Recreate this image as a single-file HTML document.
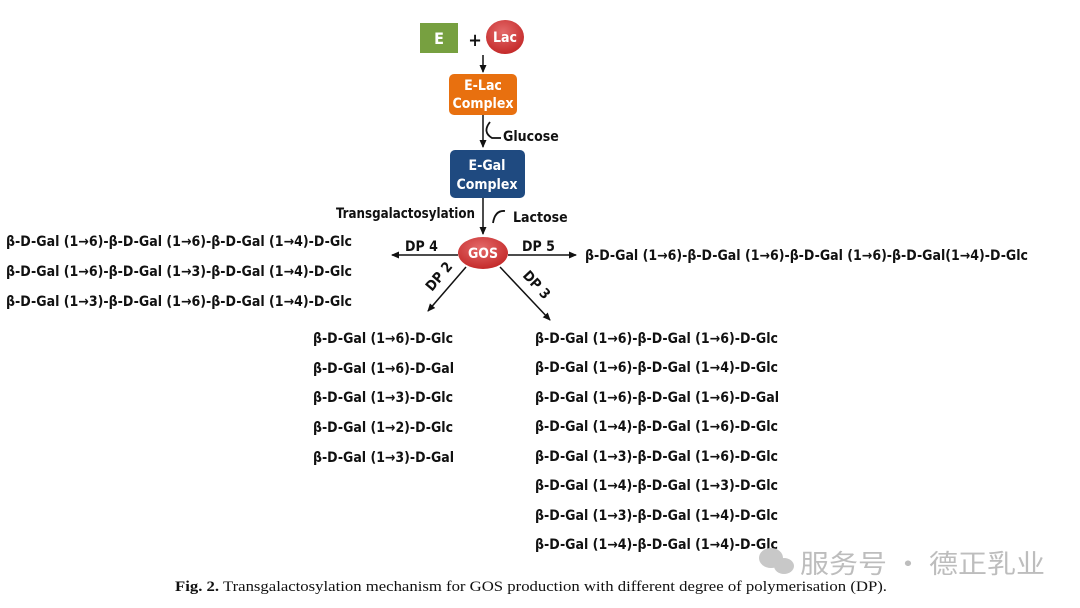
<!DOCTYPE html>
<html><head><meta charset="utf-8"><style>
html,body{margin:0;padding:0;background:#fff;}
svg{display:block;}
.t{font-family:"DejaVu Sans Condensed","Liberation Sans",sans-serif;font-weight:bold;font-size:14px;fill:#111;}
.w{font-family:"DejaVu Sans Condensed","Liberation Sans",sans-serif;font-weight:bold;font-size:14px;fill:#fff;}
</style></head><body>
<svg width="1080" height="608" viewBox="0 0 1080 608" xmlns="http://www.w3.org/2000/svg">
<defs>
<marker id="a" markerWidth="8" markerHeight="8" refX="7" refY="4" orient="auto" markerUnits="userSpaceOnUse"><path d="M0,0.5 L8,4 L0,7.5 Z" fill="#111"/></marker>
<radialGradient id="r" cx="45%" cy="35%" r="65%"><stop offset="0" stop-color="#e46a6a"/><stop offset="1" stop-color="#c42a2a"/></radialGradient>
</defs>
<rect x="420" y="23" width="38" height="30" fill="#77a040"/>
<text x="439" y="44" class="w" style="font-size:16px" text-anchor="middle">E</text>
<text x="475" y="46" class="t" style="font-size:18px" text-anchor="middle">+</text>
<ellipse cx="505" cy="37" rx="19" ry="17" fill="url(#r)"/>
<text x="505" y="42" class="w" text-anchor="middle">Lac</text>
<line x1="483" y1="55" x2="483" y2="72" stroke="#111" stroke-width="1.5" marker-end="url(#a)"/>
<rect x="449" y="74" width="68" height="41" rx="5" fill="#e8700f"/>
<text x="483" y="90" class="w" text-anchor="middle">E-Lac</text>
<text x="483" y="108" class="w" text-anchor="middle">Complex</text>
<line x1="483" y1="115" x2="483" y2="147" stroke="#111" stroke-width="1.5" marker-end="url(#a)"/>
<path d="M490,122 Q482,132 492,138 L501,138" stroke="#111" stroke-width="1.8" fill="none"/>
<text x="503" y="141" class="t">Glucose</text>
<rect x="450" y="150" width="75" height="48" rx="5" fill="#1f4a80"/>
<text x="487" y="170" class="w" text-anchor="middle">E-Gal</text>
<text x="487" y="189" class="w" text-anchor="middle">Complex</text>
<line x1="483" y1="198" x2="483" y2="234" stroke="#111" stroke-width="1.5" marker-end="url(#a)"/>
<text x="336" y="218" class="t" textLength="139" lengthAdjust="spacingAndGlyphs">Transgalactosylation</text>
<path d="M493,223 Q495,210 505,211" stroke="#111" stroke-width="1.8" fill="none"/>
<text x="513" y="222" class="t">Lactose</text>
<ellipse cx="483" cy="253" rx="25" ry="16" fill="url(#r)"/>
<text x="483" y="258" class="w" text-anchor="middle">GOS</text>
<line x1="458" y1="255" x2="392" y2="255" stroke="#111" stroke-width="1.5" marker-end="url(#a)"/>
<line x1="508" y1="255" x2="576" y2="255" stroke="#111" stroke-width="1.5" marker-end="url(#a)"/>
<line x1="466" y1="267" x2="428" y2="311" stroke="#111" stroke-width="1.5" marker-end="url(#a)"/>
<line x1="500" y1="267" x2="550" y2="320" stroke="#111" stroke-width="1.5" marker-end="url(#a)"/>
<text x="405" y="251" class="t">DP 4</text>
<text x="522" y="251" class="t">DP 5</text>
<text x="0" y="0" class="t" transform="translate(432,292) rotate(-50)">DP 2</text>
<text x="0" y="0" class="t" transform="translate(522,276) rotate(47)">DP 3</text>
<g>
<text x="6" y="246" class="t" textLength="346" lengthAdjust="spacingAndGlyphs">β-D-Gal (1→6)-β-D-Gal (1→6)-β-D-Gal (1→4)-D-Glc</text>
<text x="6" y="276" class="t" textLength="346" lengthAdjust="spacingAndGlyphs">β-D-Gal (1→6)-β-D-Gal (1→3)-β-D-Gal (1→4)-D-Glc</text>
<text x="6" y="306" class="t" textLength="346" lengthAdjust="spacingAndGlyphs">β-D-Gal (1→3)-β-D-Gal (1→6)-β-D-Gal (1→4)-D-Glc</text>
<text x="585" y="260" class="t" textLength="443" lengthAdjust="spacingAndGlyphs">β-D-Gal (1→6)-β-D-Gal (1→6)-β-D-Gal (1→6)-β-D-Gal(1→4)-D-Glc</text>
<text x="313" y="343" class="t" textLength="140" lengthAdjust="spacingAndGlyphs">β-D-Gal (1→6)-D-Glc</text>
<text x="313" y="373" class="t" textLength="141" lengthAdjust="spacingAndGlyphs">β-D-Gal (1→6)-D-Gal</text>
<text x="313" y="402" class="t" textLength="140" lengthAdjust="spacingAndGlyphs">β-D-Gal (1→3)-D-Glc</text>
<text x="313" y="432" class="t" textLength="140" lengthAdjust="spacingAndGlyphs">β-D-Gal (1→2)-D-Glc</text>
<text x="313" y="462" class="t" textLength="141" lengthAdjust="spacingAndGlyphs">β-D-Gal (1→3)-D-Gal</text>
<text x="535" y="343" class="t" textLength="243" lengthAdjust="spacingAndGlyphs">β-D-Gal (1→6)-β-D-Gal (1→6)-D-Glc</text>
<text x="535" y="372" class="t" textLength="243" lengthAdjust="spacingAndGlyphs">β-D-Gal (1→6)-β-D-Gal (1→4)-D-Glc</text>
<text x="535" y="402" class="t" textLength="244" lengthAdjust="spacingAndGlyphs">β-D-Gal (1→6)-β-D-Gal (1→6)-D-Gal</text>
<text x="535" y="431" class="t" textLength="243" lengthAdjust="spacingAndGlyphs">β-D-Gal (1→4)-β-D-Gal (1→6)-D-Glc</text>
<text x="535" y="461" class="t" textLength="243" lengthAdjust="spacingAndGlyphs">β-D-Gal (1→3)-β-D-Gal (1→6)-D-Glc</text>
<text x="535" y="490" class="t" textLength="243" lengthAdjust="spacingAndGlyphs">β-D-Gal (1→4)-β-D-Gal (1→3)-D-Glc</text>
<text x="535" y="520" class="t" textLength="243" lengthAdjust="spacingAndGlyphs">β-D-Gal (1→3)-β-D-Gal (1→4)-D-Glc</text>
<text x="535" y="549" class="t" textLength="243" lengthAdjust="spacingAndGlyphs">β-D-Gal (1→4)-β-D-Gal (1→4)-D-Glc</text>
</g>
<g fill="#c8c8c8">
<ellipse cx="771" cy="558" rx="12" ry="10"/>
<ellipse cx="784" cy="566" rx="10" ry="8"/>
</g>
<text x="800" y="573" style="font-family:'Noto Sans CJK SC',sans-serif;font-size:26px;fill:#bdbdbd" textLength="245" lengthAdjust="spacingAndGlyphs">服务号 · 德正乳业</text>
<text x="531" y="591" text-anchor="middle" style="font-family:'Liberation Serif',serif;font-size:15px;fill:#111" textLength="712" lengthAdjust="spacingAndGlyphs"><tspan font-weight="bold">Fig. 2.</tspan> Transgalactosylation mechanism for GOS production with different degree of polymerisation (DP).</text>
</svg>
</body></html>
